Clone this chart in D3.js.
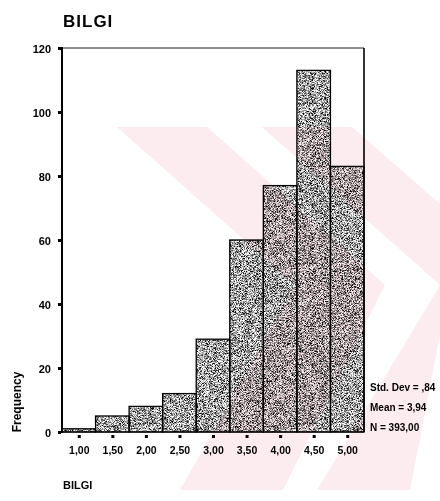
<!DOCTYPE html>
<html>
<head>
<meta charset="utf-8">
<script src="https://cdn.jsdelivr.net/npm/d3@7"></script>
<style>
  body { margin: 0; background: #fff; }
  text { font-family: "Liberation Sans", Arial, sans-serif; fill: #000; }
</style>
</head>
<body>
<div id="chart"></div>
<script>
// histogram of BILGI (bin centres, width 0.5)
const categories = [1.0, 1.5, 2.0, 2.5, 3.0, 3.5, 4.0, 4.5, 5.0];
const frequencies = [1, 5, 8, 12, 29, 60, 77, 113, 83];
const xTickLabels = ["1,00", "1,50", "2,00", "2,50", "3,00", "3,50", "4,00", "4,50", "5,00"];
const yTicks = [0, 20, 40, 60, 80, 100, 120];
const statsLines = ["Std. Dev = ,84", "Mean = 3,94", "N = 393,00"];
const binWidth = 0.5;

const width = 440;
const height = 501;
const margin = { left: 62, top: 48, right: 76, bottom: 69 };
const innerWidth = width - margin.left - margin.right;
const innerHeight = height - margin.top - margin.bottom;

const svg = d3.select("#chart")
    .append("svg")
    .attr("width", width)
    .attr("height", height)
    .style("display", "block");

// grainy print texture for the bars (filter limited to each bar's box)
const defs = svg.append("defs");
const grain = defs.append("filter")
    .attr("id", "grain")
    .attr("x", 0).attr("y", 0)
    .attr("width", 1).attr("height", 1)
    .attr("color-interpolation-filters", "sRGB");
grain.append("feTurbulence")
    .attr("type", "fractalNoise")
    .attr("baseFrequency", 1.6)
    .attr("numOctaves", 1)
    .attr("seed", 7)
    .attr("result", "noise");
grain.append("feColorMatrix")
    .attr("in", "noise")
    .attr("type", "matrix")
    .attr("values", "3.2 0 0 0 -0.97  3.2 0 0 0 -0.97  3.2 0 0 0 -0.97  0 0 0 0 1")
    .attr("result", "gray");
grain.append("feComposite")
    .attr("in", "gray")
    .attr("in2", "SourceGraphic")
    .attr("operator", "in");

// faint pink watermark printed under the page
const watermark = [
    [[117, 127], [207, 127], [385, 285], [283, 490], [180, 490], [295, 285]],
    [[262, 127], [352, 127], [440, 204], [440, 335], [410, 490], [317, 490], [440, 285]]
];
svg.append("g")
    .selectAll("polygon")
    .data(watermark)
    .enter()
    .append("polygon")
    .attr("points", d => d.map(p => p.join(",")).join(" "))
    .attr("fill", "#fdecef");

const g = svg.append("g")
    .attr("transform", `translate(${margin.left}, ${margin.top})`);

// scales
const x = d3.scaleLinear()
    .domain([categories[0] - binWidth / 2, categories[categories.length - 1] + binWidth / 2])
    .range([0, innerWidth]);

const y = d3.scaleLinear()
    .domain([0, 120])
    .range([innerHeight, 0]);

// bar fills (textured), multiplied onto the tinted paper
g.append("g")
    .style("mix-blend-mode", "multiply")
    .selectAll("rect")
    .data(categories)
    .enter()
    .append("rect")
    .attr("filter", "url(#grain)")
    .attr("x", d => x(d - binWidth / 2))
    .attr("y", (d, i) => y(frequencies[i]))
    .attr("width", d => x(d + binWidth / 2) - x(d - binWidth / 2))
    .attr("height", (d, i) => innerHeight - y(frequencies[i]))
    .attr("fill", "#999");

// bar outlines
g.append("g")
    .selectAll("rect")
    .data(categories)
    .enter()
    .append("rect")
    .attr("x", d => x(d - binWidth / 2))
    .attr("y", (d, i) => y(frequencies[i]))
    .attr("width", d => x(d + binWidth / 2) - x(d - binWidth / 2))
    .attr("height", (d, i) => innerHeight - y(frequencies[i]))
    .attr("fill", "none")
    .attr("stroke", "#000")
    .attr("stroke-width", 1.3);

// frame
g.append("line")
    .attr("x1", 0).attr("x2", innerWidth)
    .attr("y1", 0).attr("y2", 0)
    .attr("stroke", "#222").attr("stroke-width", 1);
g.append("line")
    .attr("x1", innerWidth).attr("x2", innerWidth)
    .attr("y1", 0).attr("y2", innerHeight)
    .attr("stroke", "#000").attr("stroke-width", 1.6);
g.append("line")
    .attr("x1", 0).attr("x2", 0)
    .attr("y1", -1).attr("y2", innerHeight + 1)
    .attr("stroke", "#000").attr("stroke-width", 2);
g.append("line")
    .attr("x1", 0).attr("x2", innerWidth)
    .attr("y1", innerHeight).attr("y2", innerHeight)
    .attr("stroke", "#000").attr("stroke-width", 1);

// Axis Y
const yAxis = g.append("g")
    .attr("transform", "translate(-1, 0)")
    .call(d3.axisLeft(y).tickValues(yTicks).tickSize(3).tickPadding(7));
yAxis.select(".domain").remove();
yAxis.selectAll("line").attr("stroke-width", 3);
yAxis.selectAll("text")
    .attr("dy", null)
    .attr("y", 4)
    .style("font-family", "'Liberation Sans', Arial, sans-serif")
    .style("font-size", "11px")
    .style("font-weight", "bold");

// Axis X
const xAxis = g.append("g")
    .attr("transform", `translate(0, ${innerHeight + 3})`)
    .call(d3.axisBottom(x).tickValues(categories).tickFormat((d, i) => xTickLabels[i]).tickSize(3).tickPadding(8));
xAxis.select(".domain").remove();
xAxis.selectAll("line").attr("stroke-width", 3);
xAxis.selectAll("text")
    .attr("dy", null)
    .attr("y", 18.5)
    .style("font-family", "'Liberation Sans', Arial, sans-serif")
    .style("font-size", "10.5px")
    .style("font-weight", "bold");

// Labels
svg.append("text")
    .attr("x", 63)
    .attr("y", 27)
    .style("font-size", "17px")
    .style("font-weight", "bold")
    .style("letter-spacing", "1px")
    .text("BILGI");

svg.append("text")
    .attr("transform", "translate(21, 402) rotate(-90)")
    .attr("text-anchor", "middle")
    .style("font-size", "12px")
    .style("font-weight", "bold")
    .text("Frequency");

svg.append("text")
    .attr("x", 63)
    .attr("y", 489)
    .style("font-size", "11px")
    .style("font-weight", "bold")
    .text("BILGI");

svg.append("g")
    .selectAll("text")
    .data(statsLines)
    .enter()
    .append("text")
    .attr("x", margin.left + innerWidth + 6)
    .attr("y", (d, i) => 391 + i * 20)
    .style("font-size", "10px")
    .style("font-weight", "bold")
    .text(d => d);
</script>
</body>
</html>
